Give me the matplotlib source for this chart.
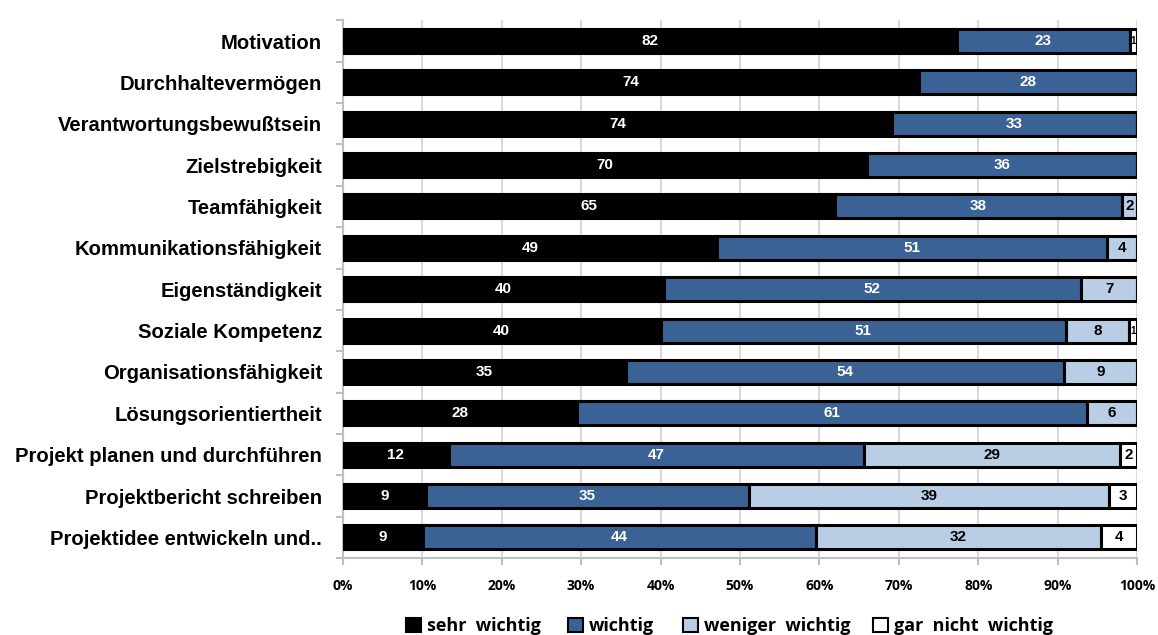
import matplotlib.pyplot as plt
import numpy as np

categories = ['Motivation', 'Durchhaltevermögen', 'Verantwortungsbewußtsein', 'Zielstrebigkeit',
              'Teamfähigkeit', 'Kommunikationsfähigkeit', 'Eigenständigkeit', 'Soziale Kompetenz',
              'Organisationsfähigkeit', 'Lösungsorientiertheit', 'Projekt planen und durchführen',
              'Projektbericht schreiben', 'Projektidee entwickeln und..']
sehr_wichtig = [82, 74, 74, 70, 65, 49, 40, 40, 35, 28, 12, 9, 9]
wichtig = [23, 28, 33, 36, 38, 51, 52, 51, 54, 61, 47, 35, 44]
weniger_wichtig = [0, 0, 0, 0, 2, 4, 7, 8, 9, 6, 29, 39, 32]
gar_nicht_wichtig = [1, 0, 0, 0, 0, 0, 0, 1, 0, 0, 2, 3, 4]

series = [sehr_wichtig, wichtig, weniger_wichtig, gar_nicht_wichtig]
names = ['sehr  wichtig', 'wichtig', 'weniger  wichtig', 'gar  nicht  wichtig']
colors = ['#000000', '#3A6294', '#B9CDE5', '#FFFFFF']
text_colors = ['white', 'white', 'black', 'black']

data = np.array(series, dtype=float)
totals = data.sum(axis=0)
shares = data / totals * 100

fig = plt.figure(figsize=(11.58, 6.35), dpi=100)
ax = fig.add_axes([0.296, 0.121, 0.686, 0.847])

y = np.arange(len(categories))
left = np.zeros(len(categories))
handles = []
for i in range(4):
    bars = ax.barh(y, shares[i], left=left, height=0.58, color=colors[i],
                   edgecolor='black', linewidth=2.2, zorder=3)
    handles.append(bars)
    for j in range(len(categories)):
        v = data[i][j]
        if v > 0:
            fs = 11 if v > 1 else 7
            ax.text(left[j] + shares[i][j] / 2, y[j], f'{int(v)}', ha='center', va='center',
                    color=text_colors[i], fontsize=fs, fontweight='bold',
                    family='Liberation Sans', zorder=4)
    left += shares[i]

ax.set_xlim(0, 100)
ax.set_ylim(len(categories) - 0.5, -0.5)
ax.set_xticks(np.arange(0, 101, 10))
ax.set_xticklabels([f'{t}%' for t in range(0, 101, 10)], fontsize=10, fontweight='bold',
                   family='Open Sans')
ax.set_yticks(y)
ax.set_yticklabels(categories, fontsize=14.6, fontweight='bold', family='Liberation Sans')
ax.set_yticks(np.arange(-0.5, len(categories), 1), minor=True)
ax.tick_params(axis='y', which='major', length=0, pad=15)
ax.tick_params(axis='y', which='minor', length=5, color='#BFBFBF', width=1.5)
ax.tick_params(axis='x', length=5, color='#BFBFBF', width=1.5, pad=10)

ax.grid(axis='x', color='#D9D9D9', linewidth=1.5, zorder=0)
for s in ['top', 'right']:
    ax.spines[s].set_visible(False)
for s in ['left', 'bottom']:
    ax.spines[s].set_color('#BFBFBF')
    ax.spines[s].set_linewidth(1.5)

# legend entries placed one by one, the spacing in the original is uneven
legend_x = [406, 568, 683, 873]
for h, name, lx in zip(handles, names, legend_x):
    leg = fig.legend([h], [name], loc='center left', bbox_to_anchor=(lx / 1158, 0.014),
                     frameon=False, borderpad=0, borderaxespad=0,
                     handlelength=0.85, handleheight=0.85, handletextpad=0.3,
                     prop={'family': 'Open Sans', 'weight': 'bold', 'size': 13})
    for lh in leg.legend_handles:
        lh.set_linewidth(1.5)

fig.savefig('out.png', dpi=100)
